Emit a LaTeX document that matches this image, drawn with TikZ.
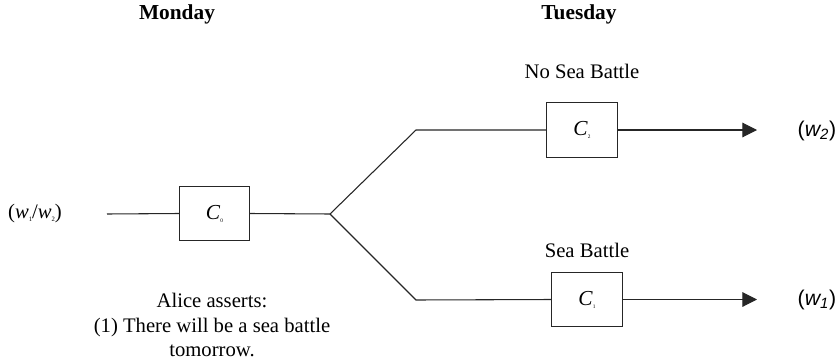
\documentclass[tikz,border=0pt]{standalone}
\usepackage{fontspec}
\setmainfont{Liberation Serif}
\newfontfamily\arialfont{Liberation Sans}
\usetikzlibrary{arrows.meta}

\newcommand{\cbox}[1]{\fontsize{16}{18}\selectfont\textit{C}\raisebox{-0.3ex}{\fontsize{4}{4}\selectfont #1}}
\newcommand{\wsub}[1]{\textit{w}\raisebox{-0.3ex}{\fontsize{5}{5}\selectfont #1}}

\begin{document}
\begin{tikzpicture}[x=0.75pt,y=-0.75pt,
  every node/.style={font=\fontsize{15.5}{18.5}\selectfont, inner sep=0pt, outer sep=0pt},
  day/.style={font=\fontsize{16}{18}\selectfont\bfseries},
  gate/.style={draw=black!85, line width=0.8pt, minimum width=53pt, minimum height=41pt},
  world/.style={font=\fontsize{16}{18}\selectfont\arialfont},
  wire/.style={draw=black!85, line width=0.8pt},
  flow/.style={wire, -{Triangle[length=11pt,width=11pt]}}]
\useasboundingbox (0,0) rectangle (839,364);

\node[day] (mon) at (177,14) {Monday};
\node[day] (tue) at (579,14) {Tuesday};

\node (start) at (35,214) {(\wsub{1}/\wsub{2})};
\coordinate (in) at (107,214);
\node[gate] (c0) at (214.5,213.5) {\cbox{0}};
\coordinate (split) at (330,214);
\coordinate (up) at (416,130);
\coordinate (down) at (416,300);

\node (nsb) at (582,71) {No Sea Battle};
\node[gate] (c2) at (582,130) {\cbox{2}};
\node (sb) at (587,250) {Sea Battle};
\node[gate] (c1) at (587,299.5) {\cbox{1}};

\coordinate (end2) at (757,130);
\coordinate (end1) at (757,299.5);
\node[world] (w2) at (817,131) {(\textit{w\textsubscript{2}})};
\node[world] (w1) at (817,300) {(\textit{w\textsubscript{1}})};

\node[align=center] (alice) at (212,325) {Alice asserts:\\(1) There will be a sea battle\\tomorrow.};

\draw[wire] (in) -- (c0.west);
\draw[wire] (c0.east) -- (split);
\draw[wire] (split) -- (up) -- (c2.west);
\draw[wire] (split) -- (down) -- (c1.west);
\draw[flow] (c2.east) -- (end2);
\draw[flow] (c1.east) -- (end1);
\end{tikzpicture}
\end{document}
